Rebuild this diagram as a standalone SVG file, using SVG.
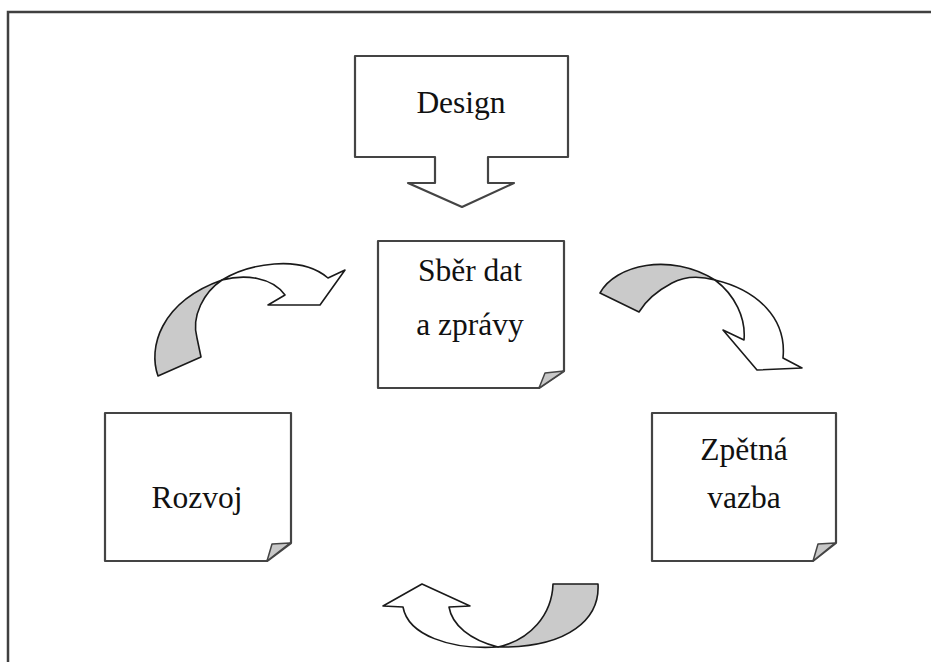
<svg xmlns="http://www.w3.org/2000/svg" width="931" height="662" viewBox="0 0 931 662">
  <style>
    .frame { fill: none; stroke: #404040; stroke-width: 2.5; }
    .box { fill: #ffffff; stroke: #444444; stroke-width: 2.2; stroke-linejoin: round; }
    .fold { fill: #c8c8c8; stroke: #444444; stroke-width: 1.5; stroke-linejoin: round; }
    .label { font-size: 31.5px; fill: #111111; text-anchor: middle; }
    .back { fill: #cacaca; stroke: #1a1a1a; stroke-width: 1.6; stroke-linejoin: round; }
    .front { fill: #ffffff; stroke: #1a1a1a; stroke-width: 1.6; stroke-linejoin: round; }
  </style>

  <rect class="frame" x="8" y="12" width="940" height="700"/>

  <g font-family="'Liberation Serif', Tinos, 'DejaVu Serif', serif">
    <g id="design">
      <path class="box" d="M355,56 H568 V157 H488 V183 H514 L462,207 L408,183 H435 V157 H355 Z"/>
      <text class="label" x="461" y="113">Design</text>
    </g>

    <g id="sber">
      <path class="box" d="M378,241 H564 V371 L539,388 H378 Z"/>
      <path class="fold" d="M539,388 L545,373 L564,371 Z"/>
      <text class="label" x="470" y="281">Sběr dat</text>
      <text class="label" x="470" y="335">a zprávy</text>
    </g>

    <g id="rozvoj">
      <path class="box" d="M105,413 H291 V543 L267,561 H105 Z"/>
      <path class="fold" d="M267,561 L272,544 L290,543 Z"/>
      <text class="label" x="197" y="508">Rozvoj</text>
    </g>

    <g id="zpetna">
      <path class="box" d="M652,413 H836 V543 L813,561 H652 Z"/>
      <path class="fold" d="M813,561 L818,544 L835,543 Z"/>
      <text class="label" x="744" y="460">Zpětná</text>
      <text class="label" x="744" y="508">vazba</text>
    </g>
  </g>

  <g id="connectors">
    <!-- upper left curved arrow -->
    <path class="back" d="M158,376 C148,348 160,302 222,280 C204,292 191,316 197,338 L201,357 Z"/>
    <path class="front" d="M222,280 C248,264 300,254 328,278 L345,270 L320,305 L268,305 L285,295 C272,277 245,274 222,280 Z"/>

    <!-- upper right curved arrow -->
    <path class="back" d="M600,293 C615,265 670,252 715,280 C700,276 685,276 672,283 C655,292 645,302 639,312 Z"/>
    <path class="front" d="M715,280 C757,290 787,318 783,358 L802,368 L757,370 L723,330 L744,340 C746,318 735,295 715,280 Z"/>

    <!-- bottom curved arrow -->
    <path class="back" d="M553,584 H598 C600,618 570,648 498,647 C530,640 552,615 553,584 Z"/>
    <path class="front" d="M498,647 C450,650 408,635 403,607 L383,606 L422,584 L470,606 L449,607 C452,625 470,640 498,647 Z"/>
  </g>
</svg>
